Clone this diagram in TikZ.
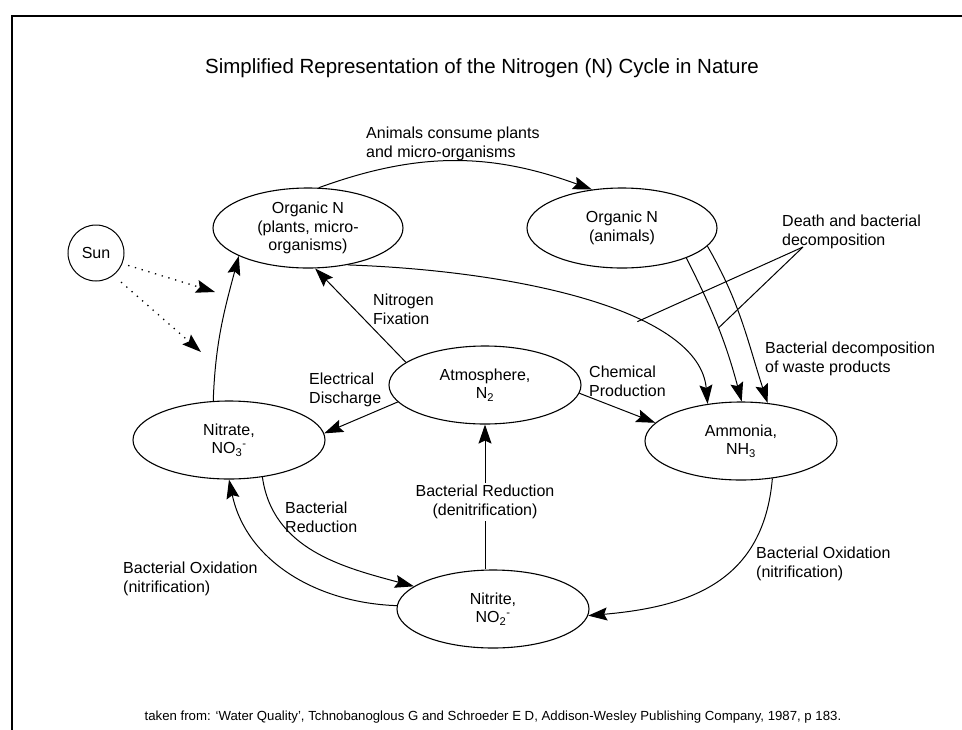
\documentclass[tikz,border=0pt]{standalone}
\usepackage{fontspec}
\setmainfont{Liberation Sans}
\usetikzlibrary{arrows.meta,shapes.geometric}
\begin{document}
\begin{tikzpicture}[x=1pt,y=-1pt,
  every node/.style={font=\fontsize{16}{18.5}\selectfont},
  state/.style={draw, ellipse, line width=1.1pt, minimum width=192pt, minimum height=78pt, inner sep=0pt, align=center},
  lbl/.style={anchor=north west, inner sep=0pt, align=left},
  tip/.style={-{Stealth[length=19pt,width=13pt,inset=3pt]}},
  conn/.style={line width=1pt, tip},
  plain/.style={line width=1pt},
  sunray/.style={line width=1.3pt, dash pattern=on 1.3pt off 5.7pt, tip}]
\useasboundingbox (0,0) rectangle (962,729);
\draw[line width=2.2pt] (12,735) -- (12,16) -- (970,16);

\node (title) at (482,68) {\fontsize{20.5}{24}\selectfont Simplified Representation of the Nitrogen (N) Cycle in Nature};
\node (src) at (493,717) {\fontsize{13.2}{15}\selectfont taken from: ‘Water Quality’, Tchnobanoglous G and Schroeder E D, Addison-Wesley Publishing Company, 1987, p 183.};

\node[state, minimum width=190pt, minimum height=80pt] (orgP) at (308,228) {Organic N\\(plants, micro-\\organisms)};
\node[state, minimum width=190pt, minimum height=80pt] (orgA) at (622,228) {Organic N\\(animals)};
\node[draw, circle, line width=1pt, minimum size=56pt, inner sep=0pt] (sun) at (96,253) {Sun};
\node[state] (atm) at (485,385) {Atmosphere,\\N\textsubscript{2}};
\node[state] (nitrate) at (229,440) {Nitrate,\\NO\textsubscript{3}\textsuperscript{-}};
\node[state] (ammonia) at (741,441) {Ammonia,\\NH\textsubscript{3}};
\node[state] (nitrite) at (493,609) {Nitrite,\\NO\textsubscript{2}\textsuperscript{-}};

\node[lbl] (lAnim) at (366,127) {Animals consume plants\\and micro-organisms};
\node[lbl] (lDeath) at (782,215) {Death and bacterial\\decomposition};
\node[lbl] (lWaste) at (765,342) {Bacterial decomposition\\of waste products};
\node[lbl] (lFix) at (373,294) {Nitrogen\\Fixation};
\node[lbl] (lElec) at (309,373) {Electrical\\Discharge};
\node[lbl] (lChem) at (589,366) {Chemical\\Production};
\node[lbl] (lRed) at (285,502) {Bacterial\\Reduction};
\node[lbl] (lOxL) at (123,562) {Bacterial Oxidation\\(nitrification)};
\node[lbl] (lOxR) at (756,547) {Bacterial Oxidation\\(nitrification)};

\coordinate (sunA) at (215,292);
\coordinate (sunB) at (201,352);
\coordinate (dp) at (803,247);

\draw[sunray, shorten <=6pt] (sun.-22) -- (sunA);
\draw[sunray, shorten <=10pt] (sun.-52) -- (sunB);

\draw[conn] (orgP.75) to[out=20,in=160] (orgA.128);
\draw[conn] (nitrate.112) to[out=88,in=-105] (orgP.202);
\draw[conn] (orgP.-43) to[out=-2,in=95,out distance=173pt,in distance=93pt] coordinate[pos=0.63] (d1) (ammonia.132);
\draw[conn] (orgA.-25) to[out=-63,in=105] coordinate[pos=0.5] (d2) (ammonia.89);
\draw[conn] (orgA.-12) to[out=-60,in=108] (ammonia.55);
\draw[plain] (dp) -- (d1);
\draw[plain] (dp) -- (d2);

\draw[conn] (atm.164) -- (orgP.-80);
\draw[conn] (atm.191) -- (nitrate.4);
\draw[conn] (atm.-5) -- (ammonia.168);
\draw[conn] (atm.south |- nitrite.north) -- node[pos=0.466, fill=white, inner sep=2pt, align=center] (lDen) {Bacterial Reduction\\(denitrification)} (atm.south);

\draw[conn] (ammonia.-50) to[out=-95,in=5,looseness=1.15] (nitrite.-4);
\draw[conn] (nitrate.-48) to[out=-82,in=165] (nitrite.164);
\draw[conn] (nitrite.178) to[out=178,in=-78] (nitrate.-90);
\end{tikzpicture}
\end{document}
